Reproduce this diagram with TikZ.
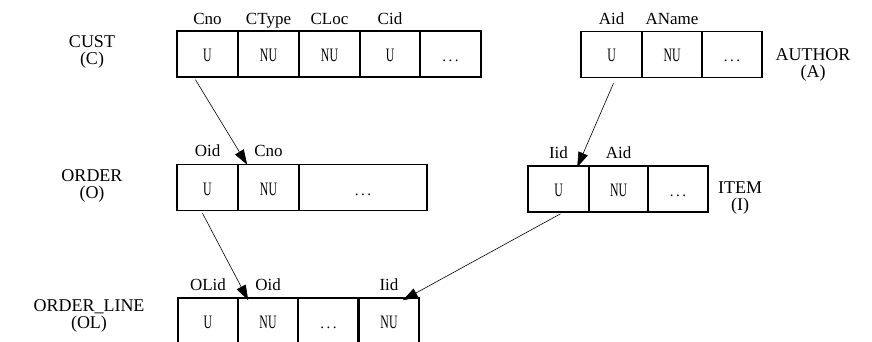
\documentclass[tikz,border=0pt]{standalone}
\usepackage{fontspec}
\setmainfont{Liberation Serif}
\newfontfamily\narrowfont[FakeStretch=0.62]{Liberation Serif}
\usetikzlibrary{arrows.meta}
\tikzset{>={Triangle[length=15pt,width=10pt]}}
\newcommand{\etc}{{\rmfamily\fontsize{15}{15}\selectfont .\,.\,.}}
\tikzset{
  cell/.style={draw,line width=1.6pt,minimum height=46pt,minimum width=61pt,inner sep=0pt,
    text height=15pt,text depth=0pt,font=\narrowfont\fontsize{19}{19}\selectfont},
  attr/.style={anchor=base,inner sep=0pt,font=\fontsize{17}{17}\selectfont},
  relname/.style={align=center,inner sep=0pt,font=\fontsize{18}{16.5}\selectfont},
  fk/.style={->,line width=0.6pt}
}

\begin{document}
\begin{tikzpicture}[x=1pt,y=-1pt]
\clip (0,0) rectangle (872,342);
% CUST
\node[relname] (cust) at (92,52) {CUST\\(C)};
\node[cell] (cu1) at (207.5,54) {U};
\node[cell] (cu2) at (268.5,54) {NU};
\node[cell,minimum width=61pt] (cu3) at (329.5,54) {NU};
\node[cell,minimum width=60pt] (cu4) at (390,54) {U};
\node[cell] (cu5) at (450.5,54) {\etc};
\node[attr] (hcno) at (207.5,25) {Cno};
\node[attr] (hctype) at (268.5,25) {CType};
\node[attr] (hcloc) at (329.5,25) {CLoc};
\node[attr] (hcid) at (390,25) {Cid};
% AUTHOR
\node[relname] (author) at (813,65) {AUTHOR\\(A)};
\node[cell] (au1) at (611.5,54.5) {U};
\node[cell,minimum width=60pt] (au2) at (672,54.5) {NU};
\node[cell,minimum width=60pt] (au3) at (732,54.5) {\etc};
\node[attr] (haid) at (611.5,25) {Aid};
\node[attr] (haname) at (672,25) {AName};
% ORDER
\node[relname] (order) at (92,186) {ORDER\\(O)};
\node[cell] (or1) at (207.5,187.5) {U};
\node[cell] (or2) at (268.5,187.5) {NU};
\node[cell,minimum width=128pt] (or3) at (363,187.5) {\etc};
\node[attr] (hoid) at (207.5,157) {Oid};
\node[attr] (hocno) at (268.5,157) {Cno};
% ITEM
\node[relname] (item) at (740,198) {ITEM\\(I)};
\node[cell] (it1) at (558.5,189) {U};
\node[cell,minimum width=59pt] (it2) at (618.5,189) {NU};
\node[cell,minimum width=60pt] (it3) at (678,189) {\etc};
\node[attr] (hiid) at (558.5,158) {Iid};
\node[attr] (hiaid) at (618.5,158) {Aid};
% ORDER_LINE
\node[relname] (orderline) at (89,316) {ORDER\_LINE\\(OL)};
\node[cell,minimum width=60pt] (ol1) at (208,321) {U};
\node[cell,minimum width=60pt] (ol2) at (268,321) {NU};
\node[cell] (ol3) at (328.5,321) {\etc};
\node[cell,minimum width=60pt] (ol4) at (389,321) {NU};
\draw[line width=3pt] (ol4.north west) -- (ol4.south west);
\node[attr] (holid) at (208,290) {OLid};
\node[attr] (holoid) at (268,290) {Oid};
\node[attr] (holiid) at (389,290) {Iid};
% foreign keys
\draw[fk] ([xshift=-12pt,yshift=-2pt]cu1.south) -- ([xshift=10pt,yshift=-1pt]or2.north west);
\draw[fk] ([xshift=2pt,yshift=-5pt]au1.south) -- ([xshift=-11pt,yshift=-2pt]it2.north west);
\draw[fk] ([xshift=-5pt,yshift=-2pt]or1.south) -- ([xshift=11pt,yshift=-3pt]ol2.north west);
\draw[fk] ([xshift=2pt,yshift=-1pt]it1.south) -- ([xshift=-17pt,yshift=-3pt]ol4.north east);
\end{tikzpicture}
\end{document}
